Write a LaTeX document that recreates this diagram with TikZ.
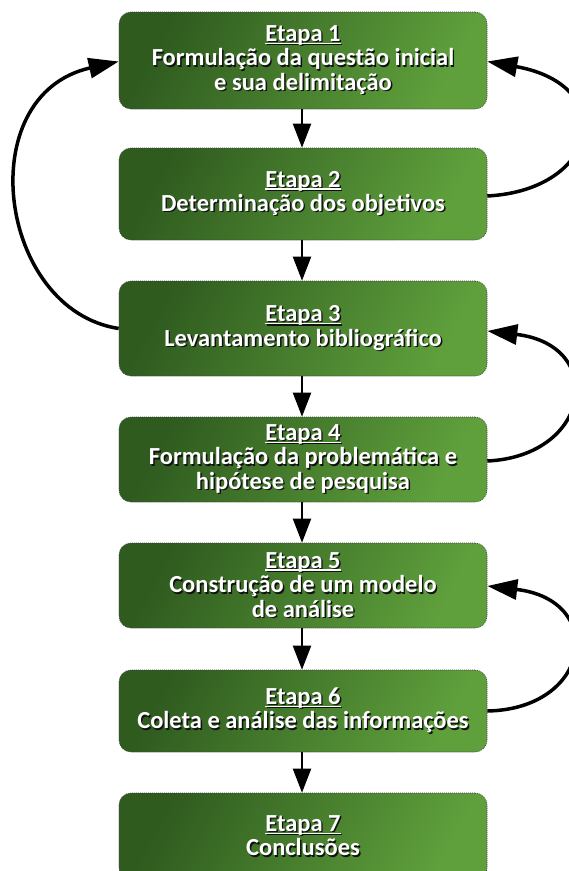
\documentclass[tikz,border=0pt]{standalone}
\usepackage{fontspec}
\setmainfont{Carlito}
\usetikzlibrary{arrows.meta}
\definecolor{gdark}{HTML}{2F5B1F}
\definecolor{glight}{HTML}{5FA03C}
\definecolor{shadowc}{HTML}{111111}
\newcommand\sh[1]{\leavevmode\rlap{\raisebox{-1.4pt}{\kern1.4pt\textcolor{shadowc}{#1}}}\textcolor{white}{#1}}
\newcommand\ulx[1]{\setbox0\hbox{#1}\rlap{\rule[-2.6pt]{\wd0}{1.3pt}}\box0}
\tikzset{
  etapabox/.style={rounded corners=12pt, top color=gdark, bottom color=glight, shading angle=62,
    draw=black!75, line width=0.6pt, dash pattern=on 1pt off 1pt,
    minimum width=368pt, align=center, inner sep=0pt,
    font=\fontsize{24.5}{24.5}\selectfont\bfseries},
  vert/.style={-{Triangle[length=24pt,width=18pt]}, line width=2pt},
  curv/.style={-{Triangle[length=30pt,width=20pt]}, line width=3.5pt},
}
\begin{document}
\begin{tikzpicture}[x=1pt,y=-1pt]
\useasboundingbox (0,0) rectangle (569,871);
\node[etapabox, minimum height=97pt] (n1) at (303,60.5) {\sh{\ulx{Etapa 1}}\\\sh{Formulação da questão inicial}\\\sh{e sua delimitação}};
\node[etapabox, minimum height=92pt] (n2) at (303,194) {\sh{\ulx{Etapa 2}}\\\sh{Determinação dos objetivos}};
\node[etapabox, minimum height=95pt] (n3) at (303,328.5) {\sh{\ulx{Etapa 3}}\\\sh{Levantamento bibliográfico}};
\node[etapabox, minimum height=85pt] (n4) at (303,459.5) {\sh{\ulx{Etapa 4}}\\\sh{Formulação da problemática e}\\\sh{hipótese de pesquisa}};
\node[etapabox, minimum height=85pt] (n5) at (303,585.5) {\sh{\ulx{Etapa 5}}\\\sh{Construção de um modelo}\\\sh{de análise}};
\node[etapabox, minimum height=82pt] (n6) at (303,711) {\sh{\ulx{Etapa 6}}\\\sh{Coleta e análise das informações}};
\node[etapabox, minimum height=87pt] (n7) at (303,836.5) {\sh{\ulx{Etapa 7}}\\\sh{Conclusões}};
\draw[vert] (n1.south -| 302,0) -- (n2.north -| 302,0);
\draw[vert] (n2.south -| 302,0) -- (n3.north -| 302,0);
\draw[vert] (n3.south -| 302,0) -- (n4.north -| 302,0);
\draw[vert] (n4.south -| 302,0) -- (n5.north -| 302,0);
\draw[vert] (n5.south -| 302,0) -- (n6.north -| 302,0);
\draw[vert] (n6.south -| 302,0) -- (n7.north -| 302,0);
\draw[curv] ([yshift=0pt]n3.west) .. controls (-2,310) and (-30,95) .. ([yshift=-1pt]n1.west);
\draw[curv] ([yshift=-2pt]n2.east) .. controls (600,190) and (620,85) .. ([yshift=-1pt]n1.east);
\draw[curv] ([yshift=-1.5pt]n4.east) .. controls (592,456) and (607,345) .. ([yshift=-2.5pt]n3.east);
\draw[curv] (n6.east) .. controls (592,709) and (607,600) .. ([yshift=-0.5pt]n5.east);
\end{tikzpicture}
\end{document}
